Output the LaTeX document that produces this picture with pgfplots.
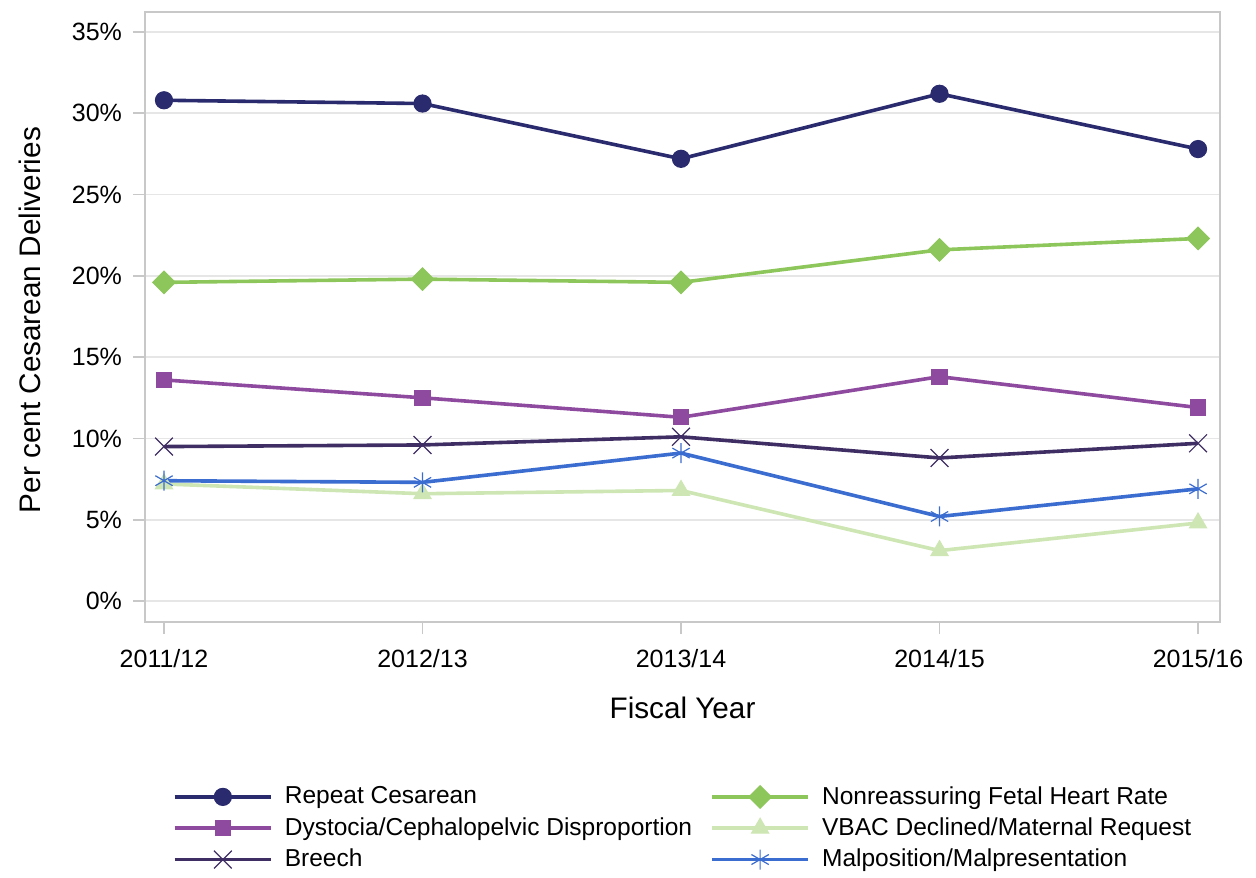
\documentclass[border=0pt]{standalone}
\usepackage{pgfplots}
\pgfplotsset{compat=1.18}
\usepackage{fontspec}
\setmainfont{Liberation Sans}
\definecolor{cRepeat}{HTML}{2A2A6E}
\definecolor{cNFHR}{HTML}{8DC65A}
\definecolor{cDyst}{HTML}{8E4A9E}
\definecolor{cBreech}{HTML}{3F2E63}
\definecolor{cVBAC}{HTML}{CDE6B3}
\definecolor{cMal}{HTML}{3B6CD0}
\definecolor{cFrame}{HTML}{C8C8C8}
\definecolor{cGrid}{HTML}{E6E6E6}
\begin{document}
\begin{tikzpicture}
\begin{axis}[
  name=ax,
  scale only axis,
  width=537.5bp, height=305bp,
  xmin=-0.0735, xmax=4.085,
  ymin=-1.29, ymax=36.23,
  xtick={0,1,2,3,4},
  xticklabels={2011/12,2012/13,2013/14,2014/15,2015/16},
  ytick={0,5,10,15,20,25,30,35},
  yticklabels={0\%,5\%,10\%,15\%,20\%,25\%,30\%,35\%},
  tick align=outside,
  major tick length=6bp,
  xtick pos=bottom, ytick pos=left,
  tick style={cFrame, line width=0.8bp},
  axis line style={cFrame, line width=1bp},
  ymajorgrids,
  grid style={cGrid, line width=0.8bp},
  ticklabel style={font=\fontsize{12.55}{14}\selectfont, text=black},
  yticklabel style={xshift=-2bp},
  xticklabel style={yshift=-4bp},
  xlabel={Fiscal Year},
  ylabel={Per cent Cesarean Deliveries},
  label style={font=\fontsize{14.9}{17}\selectfont},
  xlabel style={at={(axis description cs:0.5,-0.141)}, anchor=center},
  ylabel style={at={(axis description cs:-0.107,0.495)}, anchor=center},
  clip=false,
  legend columns=2,
  legend cell align=left,
  legend style={
    at={(axis description cs:0.02,-0.256)}, anchor=north west,
    draw=none, fill=none,
    font=\fontsize{12.3}{14}\selectfont,
    row sep=1.3bp,
    /tikz/every odd column/.style={column sep=4bp},
    /tikz/every even column/.style={column sep=7bp},
  },
  legend image code/.code={
    \draw[#1, mark repeat=2, mark phase=2] plot coordinates {(0cm,0cm) (0.85cm,0cm) (1.7cm,0cm)};
  },
  every axis plot/.append style={line width=1.8bp},
]
\addplot[cRepeat, mark=*, mark size=4.3bp, mark options={solid, fill=cRepeat, line width=0.5bp}]
  coordinates {(0,30.8) (1,30.6) (2,27.2) (3,31.2) (4,27.8)};
\addlegendentry{Repeat Cesarean}
\addplot[cNFHR, mark=square*, mark size=4bp, mark options={solid, fill=cNFHR, line width=0.5bp, rotate=45}]
  coordinates {(0,19.6) (1,19.8) (2,19.6) (3,21.6) (4,22.3)};
\addlegendentry{Nonreassuring Fetal Heart Rate}
\addplot[cDyst, mark=square*, mark size=3.8bp, mark options={solid, fill=cDyst, line width=0.5bp}]
  coordinates {(0,13.6) (1,12.5) (2,11.3) (3,13.8) (4,11.9)};
\addlegendentry{Dystocia/Cephalopelvic Disproportion}
\addplot[cVBAC, mark=triangle*, mark size=5bp, mark options={solid, fill=cVBAC, line width=0.5bp}]
  coordinates {(0,7.2) (1,6.6) (2,6.8) (3,3.1) (4,4.8)};
\addlegendentry{VBAC Declined/Maternal Request}
\addplot[cBreech, mark=x, mark size=6.3bp, mark options={solid, line width=0.6bp}]
  coordinates {(0,9.5) (1,9.6) (2,10.1) (3,8.8) (4,9.7)};
\addlegendentry{Breech}
\addplot[cMal, mark=asterisk, mark size=5bp, mark options={solid, line width=0.6bp}]
  coordinates {(0,7.4) (1,7.3) (2,9.1) (3,5.2) (4,6.9)};
\addlegendentry{Malposition/Malpresentation}
\path (rel axis cs:0,0) ++(-72.5bp,-123.5bp) coordinate (bbl);
\path (rel axis cs:1,1) ++(18bp,6bp) coordinate (btr);
\end{axis}
\path (bbl) rectangle (btr);
\end{tikzpicture}
\end{document}
